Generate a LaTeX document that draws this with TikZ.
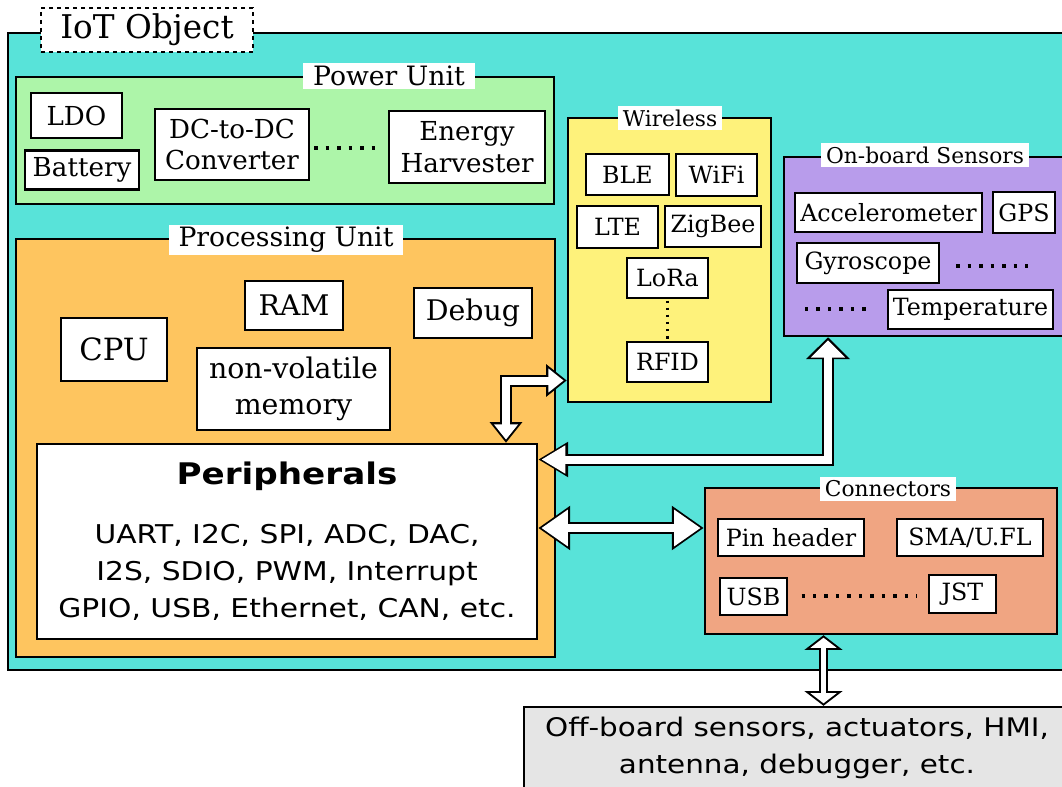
\documentclass[tikz,border=0pt]{standalone}
\usepackage{fontspec}
\setmainfont{DejaVu Serif}
\setsansfont{DejaVu Sans}[FakeStretch=1.15]
\usetikzlibrary{fit,arrows.meta}

\definecolor{iotcyan}{RGB}{88,227,217}
\definecolor{pwrgreen}{RGB}{173,245,169}
\definecolor{procorange}{RGB}{254,197,95}
\definecolor{wlyellow}{RGB}{254,242,123}
\definecolor{senspurple}{RGB}{184,156,235}
\definecolor{connsalmon}{RGB}{240,165,130}
\definecolor{offgrey}{RGB}{229,229,229}

\tikzset{
  frame/.style={draw, line width=1.8pt, inner sep=0pt},
  unittitle/.style={fill=white, inner xsep=7.5pt, inner ysep=2pt, font=\fontsize{20}{24}\selectfont},
  subtitle/.style={fill=white, inner xsep=3.5pt, inner ysep=3pt, font=\fontsize{16.3}{19}\selectfont},
  item/.style={draw, fill=white, line width=1.8pt, inner sep=0pt, align=center},
  small/.style={font=\fontsize{17.8}{21}\selectfont},
  pwritem/.style={font=\fontsize{19.6}{23.5}\selectfont},
  dots/.style={line width=2.6pt, dash pattern=on 2.6pt off 6pt},
  % tips of the fat double arrows: black outline and white inside
  blkA/.tip={Triangle[length=15.5pt,width=23.5pt]}, whtA/.tip={Triangle[length=11.5pt,width=17.4pt]},
  blkB/.tip={Triangle[length=16.5pt,width=32pt]},   whtB/.tip={Triangle[length=12.9pt,width=24.9pt]},
  blkC/.tip={Triangle[length=22.5pt,width=25pt]},   whtC/.tip={Triangle[length=17.9pt,width=19.9pt]},
  blkD/.tip={Triangle[length=24pt,width=31.7pt]},   whtD/.tip={Triangle[length=19.8pt,width=26.1pt]},
  blkE/.tip={Triangle[length=11pt,width=28pt]},     whtE/.tip={Triangle[length=7.6pt,width=19.3pt]},
  bus/.style 2 args={draw=white, line width=6pt, shorten <=2.4pt, shorten >=2.4pt, {wht#1}-{wht#2},
    preaction={draw=black, line width=9pt, shorten <=0pt, shorten >=0pt, {blk#1}-{blk#2}}},
  bussmall/.style 2 args={draw=white, line width=3.8pt, shorten <=1.9pt, shorten >=1.9pt, {wht#1}-{wht#2},
    preaction={draw=black, line width=6.8pt, shorten <=0pt, shorten >=0pt, {blk#1}-{blk#2}}}
}

\begin{document}
\begin{tikzpicture}[x=0.75pt, y=-0.75pt]
  \useasboundingbox (0,0) rectangle (1062,787);
  \clip (0,0) rectangle (1062,787);

  % IoT object
  \node[frame, fill=iotcyan, fit={(8,33) (1075,670)}] (iot) {};
  \node[draw, dashed, line width=1.2pt, fill=white, minimum width=159pt, minimum height=33pt,
    font=\fontsize{24.5}{28}\selectfont] (iotlabel) at (147,30) {IoT Object};

  % power unit
  \node[frame, fill=pwrgreen, fit={(16,77) (554,204)}] (power) {};
  \node[unittitle] (powertitle) at (389,76) {Power Unit};
  \node[item, pwritem, minimum width=68.25pt, minimum height=33.75pt] (ldo) at (76.5,115.5) {LDO};
  \node[item, pwritem, minimum width=85.5pt, minimum height=29.25pt] (battery) at (82,170) {Battery};
  \node[item, pwritem, minimum width=115.5pt, minimum height=53.25pt] (dcdc) at (232,144.5) {DC-to-DC\\Converter};
  \node[item, pwritem, minimum width=117pt, minimum height=54pt] (harvester) at (467,147) {Energy\\Harvester};
  \coordinate (pwrdots) at (345,148);
  \draw[dots, shorten <=3pt, shorten >=8pt] (dcdc.east |- pwrdots) -- (harvester.west |- pwrdots);

  % processing unit
  \node[frame, fill=procorange, fit={(16,239) (555,657)}] (proc) {};
  \node[unittitle] (proctitle) at (286,240) {Processing Unit};
  \node[item, minimum width=79.5pt, minimum height=47.25pt, font=\fontsize{23}{27}\selectfont] (cpu) at (114,349.5) {CPU};
  \node[item, minimum width=73.5pt, minimum height=36.75pt, font=\fontsize{21.3}{25}\selectfont] (ram) at (294,305.5) {RAM};
  \node[item, minimum width=88.5pt, minimum height=37.5pt, font=\fontsize{21.3}{25}\selectfont] (debug) at (473,313) {Debug};
  \node[item, minimum width=144.75pt, minimum height=61.5pt, font=\fontsize{21.3}{27}\selectfont] (nvm) at (293.5,389) {non-volatile\\memory};
  \node[item, minimum width=375pt, minimum height=146.25pt, font=\fontsize{19.4}{28}\sffamily] (periph) at (287,541.5)
    {{\fontsize{22.3}{26}\selectfont\bfseries Peripherals}\\[16pt]
     UART, I2C, SPI, ADC, DAC,\\
     I2S, SDIO, PWM, Interrupt\\
     GPIO, USB, Ethernet, CAN, etc.};

  % wireless
  \node[frame, fill=wlyellow, fit={(568,118) (771,402)}] (wireless) {};
  \node[subtitle] (wltitle) at (670,118) {Wireless};
  \node[item, small, minimum width=62.25pt, minimum height=30.75pt] (ble) at (627.5,174.5) {BLE};
  \node[item, small, minimum width=60.75pt, minimum height=31.5pt] (wifi) at (716.5,175) {WiFi};
  \node[item, small, minimum width=60.75pt, minimum height=31.5pt] (lte) at (617.5,227) {LTE};
  \node[item, small, minimum width=72pt, minimum height=30.75pt] (zigbee) at (713,226.5) {ZigBee};
  \node[item, small, minimum width=60.75pt, minimum height=30pt] (lora) at (667.5,278) {LoRa};
  \node[item, small, minimum width=60.75pt, minimum height=30pt] (rfid) at (667.5,362) {RFID};
  \draw[line width=2pt, dash pattern=on 2pt off 3.3pt, shorten <=1pt] (lora) -- (rfid);

  % on-board sensors
  \node[frame, fill=senspurple, fit={(784,157) (1080,336)}] (sensors) {};
  \node[subtitle] (senstitle) at (925,155) {On-board Sensors};
  \node[item, small, minimum width=140.25pt, minimum height=29.25pt] (accel) at (888.5,212.5) {Accelerometer};
  \node[item, small, minimum width=46.5pt, minimum height=30.75pt] (gps) at (1024,212.5) {GPS};
  \node[item, small, minimum width=106.5pt, minimum height=30pt] (gyro) at (868,263) {Gyroscope};
  \node[item, small, minimum width=123.75pt, minimum height=29.25pt] (temp) at (970.5,309.5) {Temperature};
  \coordinate (gyrodots) at (1030,266);
  \coordinate (tempdots) at (805,309);
  \draw[dots, shorten <=12pt] (gyro.east |- gyrodots) -- (gyrodots);
  \draw[dots, shorten >=12pt] (tempdots) -- (tempdots -| temp.west);

  % connectors
  \node[frame, fill=connsalmon, fit={(705,488) (1057,634)}] (conn) {};
  \node[subtitle] (conntitle) at (888,489) {Connectors};
  \node[item, small, minimum width=109.5pt, minimum height=27.75pt] (pinheader) at (791,537.5) {Pin header};
  \node[item, small, minimum width=109.5pt, minimum height=27.75pt] (sma) at (970,537.5) {SMA/U.FL};
  \node[item, small, minimum width=50.25pt, minimum height=27.75pt] (usb) at (753.5,596.5) {USB};
  \node[item, small, minimum width=50.25pt, minimum height=28.5pt] (jst) at (962.5,594) {JST};
  \coordinate (conndots) at (860,596);
  \draw[dots, shorten <=10pt, shorten >=8pt] (usb.east |- conndots) -- (jst.west |- conndots);

  % off-board
  \node[frame, fill=offgrey, fit={(524,707) (1075,800)}] (offboard) {};
  \node[align=center, font=\fontsize{19.2}{27.75}\sffamily] (offtext) at (797,748)
    {Off-board sensors, actuators, HMI,\\antenna, debugger, etc.};

  % buses
  \coordinate (wlink) at (506,380.5);
  \coordinate (slink) at (828,459.5);
  \coordinate (clink) at (620,528);
  \coordinate (olink) at (823.5,670);
  \draw[bus={A}{A}] (periph.north -| wlink) |- (wireless.west |- wlink);
  \draw[bus={B}{C}] (sensors.south -| slink) |- (periph.east |- slink);
  \draw[bus={D}{D}] (periph.east |- clink) -- (conn.west |- clink);
  \draw[bussmall={E}{E}] (conn.south -| olink) -- (offboard.north -| olink);
\end{tikzpicture}
\end{document}
